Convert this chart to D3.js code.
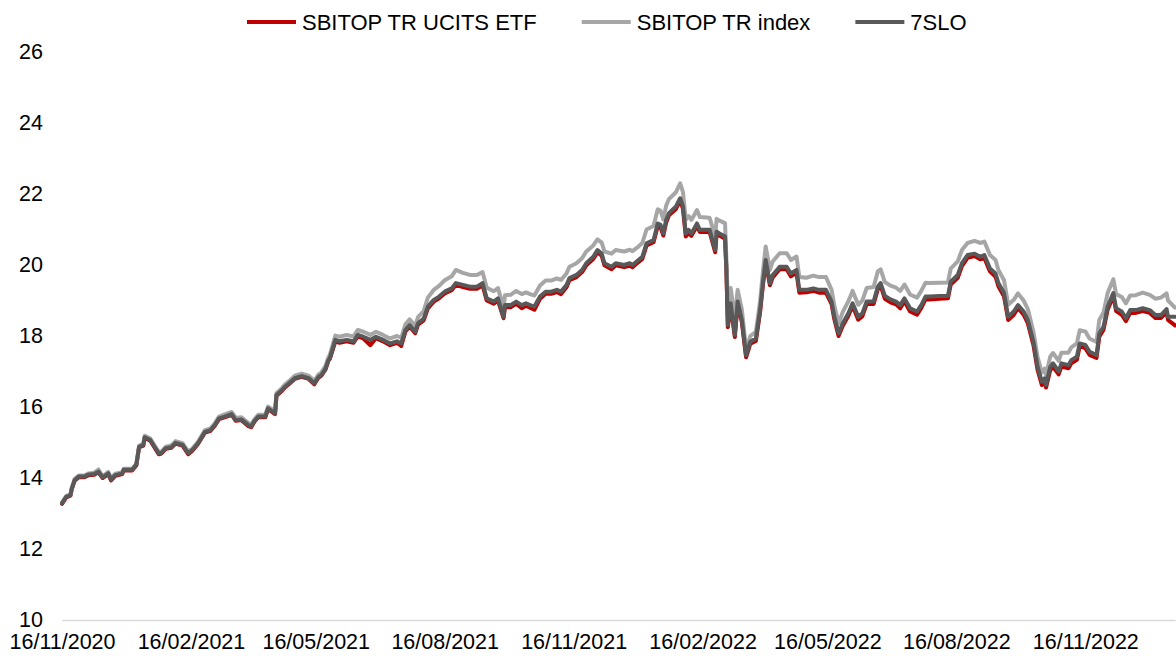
<!DOCTYPE html>
<html>
<head>
<meta charset="utf-8">
<script src="https://cdn.jsdelivr.net/npm/d3@7"></script>
<style>
  body { margin: 0; background: #fff; }
  text { font-family: "Liberation Sans", Arial, sans-serif; fill: #000; }
</style>
</head>
<body>
<div class="chart"></div>
<script>
// trading dates
const dates = [
  "2020-11-16","2020-11-19","2020-11-22","2020-11-23","2020-11-25","2020-11-28","2020-12-02","2020-12-05","2020-12-09","2020-12-12",
  "2020-12-15","2020-12-19","2020-12-21","2020-12-24","2020-12-29","2020-12-30","2021-01-05","2021-01-08","2021-01-10","2021-01-13",
  "2021-01-14","2021-01-18","2021-01-21","2021-01-24","2021-01-26","2021-01-29","2021-02-02","2021-02-05","2021-02-10","2021-02-14",
  "2021-02-17","2021-02-21","2021-02-26","2021-03-02","2021-03-05","2021-03-08","2021-03-12","2021-03-17","2021-03-20","2021-03-24",
  "2021-03-29","2021-03-31","2021-04-02","2021-04-05","2021-04-10","2021-04-12","2021-04-17","2021-04-18","2021-04-22","2021-04-24",
  "2021-04-27","2021-05-01","2021-05-06","2021-05-11","2021-05-15","2021-05-18","2021-05-20","2021-05-23","2021-05-25","2021-05-26",
  "2021-05-30","2021-06-02","2021-06-07","2021-06-12","2021-06-15","2021-06-19","2021-06-24","2021-06-28","2021-07-03","2021-07-08",
  "2021-07-13","2021-07-16","2021-07-19","2021-07-22","2021-07-26","2021-07-28","2021-08-01","2021-08-04","2021-08-08","2021-08-12",
  "2021-08-16","2021-08-21","2021-08-24","2021-08-29","2021-09-03","2021-09-08","2021-09-12","2021-09-15","2021-09-20","2021-09-23",
  "2021-09-27","2021-09-28","2021-10-02","2021-10-06","2021-10-10","2021-10-13","2021-10-16","2021-10-19","2021-10-23","2021-10-27",
  "2021-10-31","2021-11-04","2021-11-07","2021-11-11","2021-11-13","2021-11-18","2021-11-22","2021-11-25","2021-11-30","2021-12-03",
  "2021-12-06","2021-12-08","2021-12-13","2021-12-16","2021-12-22","2021-12-26","2021-12-28","2021-12-31","2022-01-04","2022-01-07",
  "2022-01-12","2022-01-15","2022-01-17","2022-01-19","2022-01-21","2022-01-23","2022-01-28","2022-01-31","2022-02-02","2022-02-04",
  "2022-02-06","2022-02-08","2022-02-12","2022-02-14","2022-02-21","2022-02-25","2022-02-26","2022-02-28","2022-03-04","2022-03-05",
  "2022-03-06","2022-03-08","2022-03-11","2022-03-13","2022-03-16","2022-03-19","2022-03-22","2022-03-26","2022-03-29","2022-03-31",
  "2022-04-02","2022-04-05","2022-04-07","2022-04-12","2022-04-17","2022-04-20","2022-04-24","2022-04-26","2022-05-01","2022-05-06",
  "2022-05-10","2022-05-15","2022-05-19","2022-05-21","2022-05-24","2022-05-27","2022-05-31","2022-06-03","2022-06-07","2022-06-10",
  "2022-06-13","2022-06-18","2022-06-21","2022-06-23","2022-06-26","2022-06-30","2022-07-04","2022-07-07","2022-07-10","2022-07-14",
  "2022-07-19","2022-07-22","2022-07-25","2022-07-28","2022-08-04","2022-08-10","2022-08-12","2022-08-17","2022-08-20","2022-08-24",
  "2022-08-29","2022-09-02","2022-09-05","2022-09-09","2022-09-13","2022-09-15","2022-09-19","2022-09-22","2022-09-26","2022-09-29",
  "2022-10-03","2022-10-06","2022-10-10","2022-10-13","2022-10-16","2022-10-18","2022-10-19","2022-10-22","2022-10-24","2022-10-28",
  "2022-10-30","2022-11-04","2022-11-06","2022-11-10","2022-11-12","2022-11-16","2022-11-19","2022-11-24","2022-11-26","2022-11-29",
  "2022-12-02","2022-12-06","2022-12-08","2022-12-12","2022-12-15","2022-12-18","2022-12-22","2022-12-27","2023-01-01","2023-01-05",
  "2023-01-09","2023-01-13","2023-01-14","2023-01-19"
];

// SBITOP TR UCITS ETF
const etf = [
  13.27,13.45,13.50,13.69,13.92,14.02,14.02,14.08,14.09,14.16,
  14.00,14.11,13.93,14.06,14.11,14.21,14.21,14.35,14.86,14.91,
  15.13,15.05,14.86,14.67,14.69,14.82,14.85,14.97,14.91,14.67,
  14.77,14.96,15.28,15.33,15.47,15.66,15.71,15.78,15.61,15.63,
  15.46,15.43,15.57,15.71,15.71,15.94,15.80,16.32,16.46,16.55,
  16.65,16.79,16.85,16.79,16.64,16.83,16.88,17.06,17.30,17.35,
  17.85,17.81,17.85,17.81,17.99,17.93,17.74,17.94,17.85,17.74,
  17.81,17.72,18.13,18.27,18.08,18.32,18.44,18.78,18.96,19.06,
  19.20,19.29,19.44,19.38,19.33,19.33,19.43,19.00,18.91,19.00,
  18.50,18.81,18.81,18.91,18.78,18.85,18.80,18.74,19.05,19.19,
  19.19,19.24,19.18,19.38,19.57,19.66,19.80,19.99,20.17,20.36,
  20.26,19.99,19.88,19.99,19.94,19.98,19.94,20.04,20.17,20.55,
  20.64,21.10,21.06,20.83,21.20,21.40,21.58,21.82,21.58,20.80,
  20.90,20.82,21.10,20.93,20.93,20.36,20.88,20.83,20.74,19.80,
  18.25,18.86,17.97,18.91,18.39,17.40,17.78,17.86,18.67,19.43,
  20.08,19.43,19.65,19.88,19.88,19.68,19.78,19.22,19.23,19.27,
  19.22,19.22,18.90,18.47,18.00,18.29,18.57,18.85,18.46,18.56,
  18.90,18.90,19.32,19.42,19.05,18.95,18.89,18.78,18.98,18.69,
  18.60,18.79,19.03,19.03,19.05,19.06,19.45,19.64,19.97,20.20,
  20.25,20.16,20.20,19.82,19.67,19.40,19.12,18.45,18.60,18.79,
  18.60,18.36,17.75,17.04,16.62,16.72,16.55,17.04,17.13,16.92,
  17.14,17.09,17.23,17.33,17.71,17.66,17.47,17.38,17.98,18.18,
  18.75,19.13,18.70,18.60,18.42,18.65,18.65,18.70,18.65,18.51,
  18.51,18.68,18.45,18.30
];

// SBITOP TR index
const index = [
  13.31,13.49,13.54,13.73,13.97,14.07,14.07,14.13,14.15,14.24,
  14.05,14.17,14.00,14.12,14.16,14.26,14.26,14.40,14.91,14.97,
  15.19,15.11,14.92,14.74,14.75,14.88,14.92,15.04,14.98,14.75,
  14.83,15.02,15.35,15.40,15.54,15.73,15.79,15.86,15.69,15.71,
  15.55,15.50,15.64,15.78,15.79,16.01,15.88,16.39,16.54,16.63,
  16.73,16.88,16.94,16.88,16.74,16.92,16.97,17.16,17.40,17.46,
  18.01,17.98,18.03,17.99,18.17,18.12,18.03,18.12,18.03,17.93,
  18.00,17.95,18.33,18.47,18.29,18.53,18.70,19.08,19.29,19.41,
  19.57,19.68,19.86,19.78,19.72,19.72,19.80,19.36,19.26,19.35,
  18.80,19.15,19.16,19.27,19.18,19.23,19.18,19.14,19.42,19.56,
  19.56,19.62,19.58,19.77,19.95,20.05,20.19,20.38,20.55,20.72,
  20.63,20.38,20.32,20.42,20.38,20.43,20.39,20.48,20.62,21.00,
  21.10,21.57,21.53,21.28,21.67,21.86,22.05,22.30,22.05,21.27,
  21.38,21.27,21.55,21.35,21.33,20.80,21.30,21.25,21.18,20.15,
  18.95,19.35,18.50,19.30,18.75,17.62,18.00,18.12,18.98,19.80,
  20.52,19.86,20.10,20.33,20.33,20.14,20.24,19.66,19.64,19.70,
  19.66,19.66,19.30,18.85,18.35,18.68,18.98,19.27,18.88,19.00,
  19.35,19.38,19.82,19.88,19.52,19.42,19.36,19.27,19.45,19.17,
  19.08,19.27,19.50,19.49,19.50,19.51,19.90,20.10,20.42,20.62,
  20.68,20.62,20.66,20.28,20.14,19.86,19.58,18.88,19.02,19.20,
  19.00,18.76,18.12,17.40,16.97,17.08,16.90,17.42,17.52,17.30,
  17.53,17.53,17.68,17.79,18.16,18.13,17.93,17.83,18.45,18.66,
  19.22,19.60,19.18,19.10,18.92,19.14,19.15,19.22,19.16,19.05,
  19.08,19.20,19.00,18.80
];

// 7SLO
const slo = [
  13.29,13.47,13.52,13.71,13.94,14.04,14.04,14.10,14.11,14.18,
  14.02,14.13,13.96,14.08,14.13,14.23,14.23,14.37,14.88,14.93,
  15.15,15.07,14.88,14.70,14.71,14.84,14.87,14.99,14.93,14.70,
  14.79,14.98,15.30,15.35,15.49,15.68,15.73,15.80,15.63,15.65,
  15.49,15.45,15.59,15.73,15.73,15.96,15.82,16.34,16.48,16.57,
  16.67,16.81,16.87,16.81,16.67,16.85,16.90,17.08,17.32,17.37,
  17.89,17.85,17.89,17.85,18.03,17.98,17.89,17.98,17.89,17.79,
  17.85,17.79,18.17,18.31,18.12,18.36,18.49,18.83,19.01,19.11,
  19.25,19.34,19.49,19.44,19.39,19.39,19.49,19.06,18.97,19.06,
  18.54,18.87,18.87,18.97,18.87,18.92,18.87,18.83,19.11,19.25,
  19.25,19.30,19.25,19.44,19.63,19.72,19.86,20.05,20.23,20.42,
  20.32,20.05,19.95,20.05,20.00,20.05,20.00,20.10,20.23,20.61,
  20.70,21.17,21.13,20.89,21.27,21.46,21.65,21.88,21.65,20.89,
  20.99,20.89,21.17,20.99,20.99,20.42,20.94,20.89,20.80,19.86,
  18.31,18.92,18.03,18.97,18.45,17.46,17.84,17.93,18.73,19.49,
  20.14,19.49,19.72,19.95,19.95,19.76,19.86,19.30,19.30,19.34,
  19.30,19.30,18.97,18.54,18.07,18.36,18.64,18.92,18.54,18.64,
  18.97,18.97,19.39,19.49,19.13,19.03,18.97,18.87,19.06,18.78,
  18.69,18.87,19.11,19.11,19.13,19.13,19.53,19.72,20.05,20.28,
  20.32,20.23,20.28,19.90,19.76,19.49,19.21,18.54,18.69,18.87,
  18.69,18.45,17.84,17.13,16.71,16.81,16.62,17.13,17.23,17.00,
  17.23,17.18,17.32,17.42,17.79,17.75,17.56,17.46,18.07,18.26,
  18.83,19.21,18.78,18.69,18.50,18.73,18.73,18.78,18.73,18.59,
  18.59,18.76,18.54,18.54
];

const seriesNames = ["SBITOP TR UCITS ETF", "SBITOP TR index", "7SLO"];
const yTicks = [10, 12, 14, 16, 18, 20, 22, 24, 26];
const xTicks = ["2020-11-16", "2021-02-16", "2021-05-16", "2021-08-16", "2021-11-16",
  "2022-02-16", "2022-05-16", "2022-08-16", "2022-11-16"];

let width = 1176,
  height = 656,
  fontSize = "21.5px",
  colors = ["#c00000", "#a6a6a6", "#595959"];

const parse = d3.timeParse("%Y-%m-%d");
const days = dates.map(parse);

let svg = d3.select(".chart").append("svg")
  .attr("width", width)
  .attr("height", height);

let x = d3.scaleTime()
  .domain([days[0], days[days.length - 1]])
  .range([62, 1175]);

let y = d3.scaleLinear()
  .domain([10, 26])
  .range([620, 52]);

// x axis (baseline + date labels)
let xAxis = svg.append("g")
  .attr("transform", "translate(0," + y(10) + ")")
  .call(d3.axisBottom(x)
    .tickValues(xTicks.map(parse))
    .tickFormat(d3.timeFormat("%d/%m/%Y"))
    .tickSize(0)
    .tickPadding(14));
xAxis.select(".domain").attr("stroke", "#d9d9d9").attr("stroke-width", 1.5);
xAxis.selectAll("text").attr("font-size", fontSize);

// y axis labels only
let yAxis = svg.append("g")
  .attr("transform", "translate(43,0)")
  .call(d3.axisLeft(y).tickValues(yTicks).tickSize(0).tickPadding(0));
yAxis.select(".domain").remove();
yAxis.selectAll("text").attr("font-size", fontSize);

// lines: ETF first, index, then 7SLO on top
const series = [etf, index, slo];
let line = d3.line()
  .x((d, i) => x(days[i]))
  .y((d) => y(d));

series.forEach((s, k) => {
  svg.append("path")
    .datum(s)
    .attr("fill", "none")
    .attr("stroke", colors[k])
    .attr("stroke-width", 4)
    .attr("stroke-linejoin", "round")
    .attr("stroke-linecap", "round")
    .attr("d", line);
});

// legend
let lx = 247;
seriesNames.forEach((name, k) => {
  let g = svg.append("g").attr("transform", "translate(" + lx + ",22)");
  g.append("line")
    .attr("x1", 0).attr("x2", 49)
    .attr("stroke", colors[k])
    .attr("stroke-width", 4);
  let t = g.append("text")
    .attr("x", 55)
    .attr("dy", "0.35em")
    .attr("font-size", "22px")
    .text(name);
  lx += 55 + t.node().getComputedTextLength() + 45;
});
</script>
</body>
</html>
